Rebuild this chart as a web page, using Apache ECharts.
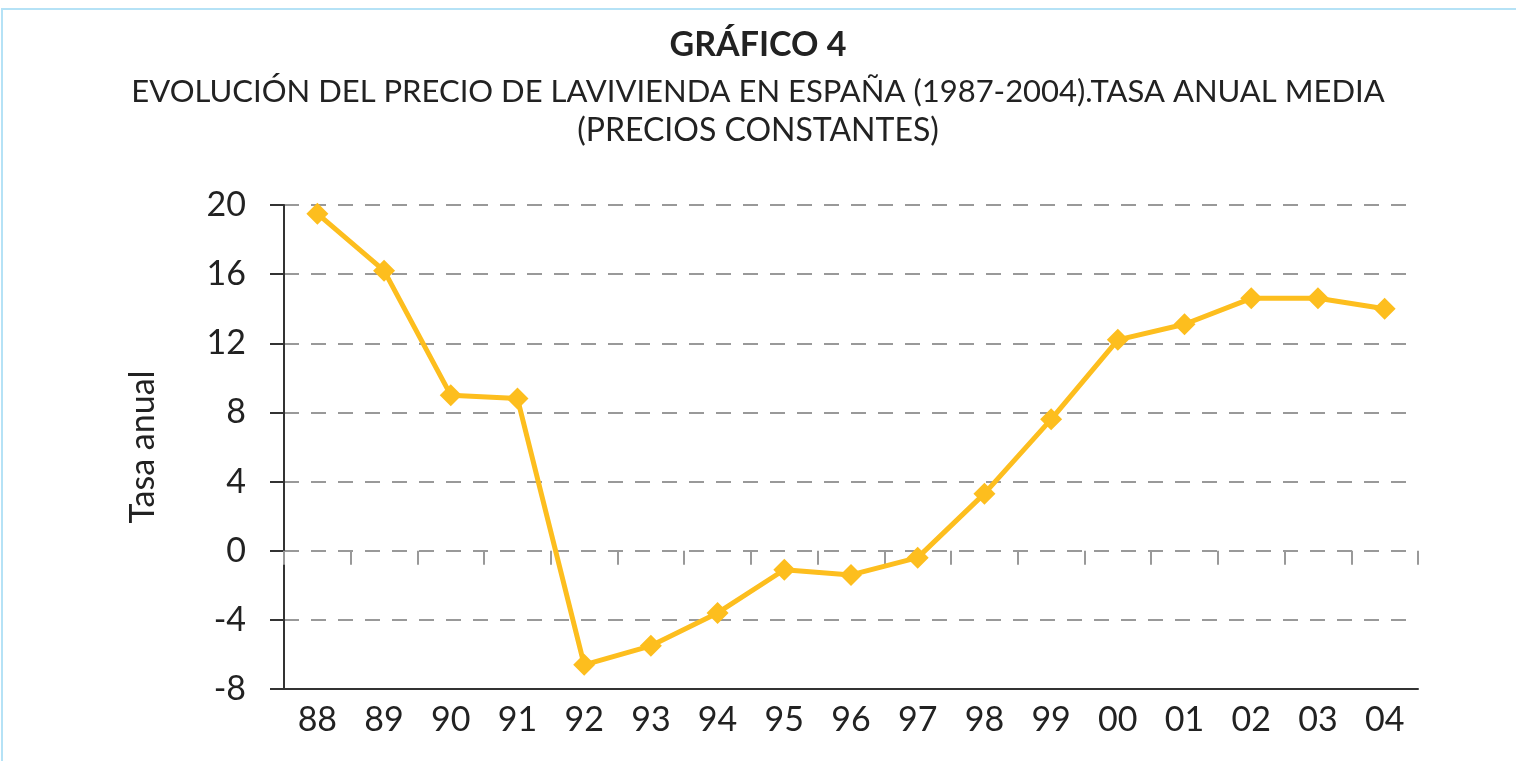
<!DOCTYPE html>
<html>
<head>
<meta charset="utf-8">
<title>Gráfico 4</title>
<script src="https://cdn.jsdelivr.net/npm/echarts@6/dist/echarts.min.js"></script>
<style>
  html, body { margin: 0; padding: 0; background: #fff; }
  #frame {
    position: absolute; left: 1px; top: 8px; right: 0; bottom: 0;
    border-top: 2px solid #b5e2f6; border-left: 2px solid #b5e2f6;
  }
  #chart { position: absolute; left: 0; top: 0; width: 1516px; height: 761px; }
</style>
</head>
<body>
<div id="frame"></div>
<div id="chart"></div>
<script>
// años (dos cifras) y tasa anual media, precios constantes
const years = ['88', '89', '90', '91', '92', '93', '94', '95', '96', '97', '98', '99', '00', '01', '02', '03', '04'];
const tasaAnual = [19.5, 16.2, 9.0, 8.8, -6.6, -5.5, -3.6, -1.1, -1.4, -0.4, 3.3, 7.6, 12.2, 13.1, 14.6, 14.6, 14.0];
const yTicks = { min: -8, max: 20, interval: 4 };

const font = 'Lato';
const chart = echarts.init(document.getElementById('chart'));

chart.setOption({
  animation: false,
  textStyle: { fontFamily: font },
  title: [
    {
      text: 'GRÁFICO 4',
      left: 'center', top: 23,
      textStyle: { fontSize: 34, fontWeight: 'bold', color: '#222', fontFamily: font }
    },
    {
      text: 'EVOLUCIÓN DEL PRECIO DE LAVIVIENDA EN ESPAÑA (1987-2004).TASA ANUAL MEDIA',
      left: 'center', top: 71,
      textStyle: { fontSize: 31, fontWeight: 'normal', color: '#222', fontFamily: font }
    },
    {
      text: '(PRECIOS CONSTANTES)',
      left: 'center', top: 110,
      textStyle: { fontSize: 32, fontWeight: 'normal', color: '#222', fontFamily: font }
    }
  ],
  grid: { left: 284, right: 98, top: 205, bottom: 72, containLabel: false },
  xAxis: [
    {
      // marcas sobre la línea del cero
      type: 'category', data: years, boundaryGap: true,
      axisLine: { show: false, onZero: true },
      axisTick: { show: true, inside: false, length: 14, lineStyle: { color: '#999', width: 2 } },
      axisLabel: { show: false },
      splitLine: { show: false }
    },
    {
      type: 'category', data: years, boundaryGap: true, position: 'bottom',
      axisLine: { show: true, onZero: false, lineStyle: { color: '#333', width: 2 } },
      axisTick: { show: false },
      axisLabel: { color: '#222', fontSize: 34, margin: 14, fontFamily: font },
      splitLine: { show: false }
    }
  ],
  yAxis: {
    type: 'value', min: yTicks.min, max: yTicks.max, interval: yTicks.interval,
    name: 'Tasa anual', nameLocation: 'middle', nameGap: 124, nameRotate: 90,
    nameTextStyle: { fontSize: 34, color: '#222', fontFamily: font },
    axisLine: { show: true, lineStyle: { color: '#333', width: 2 } },
    axisTick: { show: true, length: 14, lineStyle: { color: '#333', width: 2 } },
    axisLabel: { color: '#222', fontSize: 34, margin: 38, fontFamily: font },
    splitLine: { show: true, lineStyle: { color: '#999', width: 2, type: [15, 12] } }
  },
  series: [{
    type: 'line', xAxisIndex: 1, data: tasaAnual,
    symbol: 'diamond', symbolSize: 22,
    lineStyle: { color: '#FDBE1E', width: 5 },
    itemStyle: { color: '#FDBE1E' }
  }]
});
</script>
</body>
</html>
